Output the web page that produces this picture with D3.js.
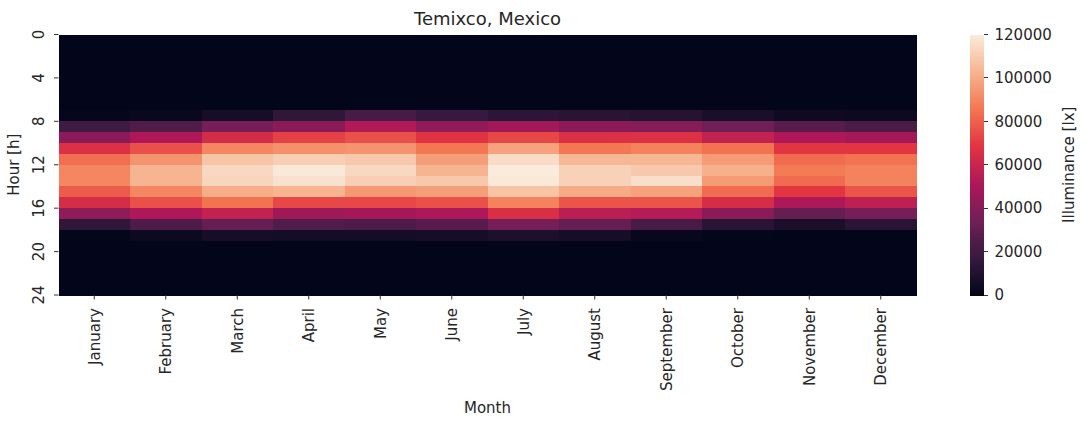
<!DOCTYPE html>
<html>
<head>
<meta charset="utf-8">
<script src="https://cdn.jsdelivr.net/npm/d3@7"></script>
<style>
  html, body { margin: 0; padding: 0; background: #fff; }
  svg text { font-family: "DejaVu Sans", sans-serif; fill: #262626; }
</style>
</head>
<body>
<svg id="chart" width="1081" height="421"></svg>
<script>
// Monthly mean illuminance [lx] per hour of day, Temixco, Mexico
const months = ["January", "February", "March", "April", "May", "June",
                "July", "August", "September", "October", "November", "December"];
const hours = d3.range(24);
const hourTicks = [0, 4, 8, 12, 16, 20, 24];
const colorTicks = [0, 20000, 40000, 60000, 80000, 100000, 120000];

// one array per month, hours 0..23
const january   = [0,0,0,0,0,0,0, 1000, 20000, 42000, 67000, 84000,  90000,  90000,  79000, 65000, 43000, 15000,  500, 0,0,0,0,0];
const february  = [0,0,0,0,0,0,0, 2500, 25000, 52000, 76000, 94000, 103000, 103000,  90000, 76000, 52000, 24000, 3000, 0,0,0,0,0];
const march     = [0,0,0,0,0,0,0, 7000, 36000, 64000, 90000,108000, 114000, 113000, 101000, 85000, 58000, 31000, 7000, 0,0,0,0,0];
const april     = [0,0,0,0,0,0,0,15000, 42000, 72000, 93000,111000, 119000, 117000, 103000, 74000, 47000, 25000, 6000, 0,0,0,0,0];
const may       = [0,0,0,0,0,0,0,22000, 53000, 76000, 94000,109000, 114000, 111000,  95000, 74000, 49000, 24000, 6000, 0,0,0,0,0];
const june      = [0,0,0,0,0,0,0,17000, 43000, 68000, 86000, 97000, 103000, 109000,  97000, 76000, 52000, 27000, 7000, 0,0,0,0,0];
const july      = [0,0,0,0,0,0,0,14000, 48000, 74000, 98000,115000, 120000, 119000, 108000, 89000, 66000, 36000, 9000, 0,0,0,0,0];
const august    = [0,0,0,0,0,0,0,13000, 42000, 67000, 86000,104000, 112000, 112000, 100000, 77000, 56000, 31000, 7000, 0,0,0,0,0];
const september = [0,0,0,0,0,0,0,12000, 40000, 67000, 89000,104000, 109000, 116000,  98000, 77000, 54000, 22000, 2000, 0,0,0,0,0];
const october   = [0,0,0,0,0,0,0, 8000, 34000, 58000, 85000, 96000, 102000,  96000,  83000, 65000, 42000, 13000,  500, 0,0,0,0,0];
const november  = [0,0,0,0,0,0,0, 4000, 27000, 52000, 69000, 83000,  87000,  83000,  69000, 52000, 31000,  8000,    0, 0,0,0,0,0];
const december  = [0,0,0,0,0,0,0, 3500, 23000, 49000, 69000, 85000,  89000,  89000,  77000, 57000, 36000, 13000,    0, 0,0,0,0,0];
const illuminance = [january, february, march, april, may, june,
                     july, august, september, october, november, december];

const vmax = 120000;

// "rocket" colour map stops
const rocketStops = ["#03051a", "#35193e", "#701f57", "#ad1759",
                     "#e13342", "#f37651", "#f6b48f", "#faebdd"];
const color = d3.scaleLinear()
  .domain(rocketStops.map((_, i) => i / (rocketStops.length - 1) * vmax))
  .range(rocketStops)
  .interpolate(d3.interpolateRgb)
  .clamp(true);

const svg = d3.select("#chart");
const plot = { left: 58.5, right: 916.5, top: 34.5, bottom: 295 };
const cbar = { left: 969.5, right: 983.5, top: 34.5, bottom: 295 };

const x = d3.scaleBand().domain(months).range([plot.left, plot.right]).padding(0);
const y = d3.scaleLinear().domain([0, 24]).range([plot.top, plot.bottom]);

// heatmap cells
const cells = [];
months.forEach((m, i) => hours.forEach(h => cells.push({ month: m, hour: h, value: illuminance[i][h] })));
svg.append("g")
  .attr("shape-rendering", "crispEdges")
  .selectAll("rect").data(cells).join("rect")
  .attr("x", d => x(d.month))
  .attr("y", d => y(d.hour))
  .attr("width", x.bandwidth() + 0.5)
  .attr("height", d => y(d.hour + 1) - y(d.hour) + 0.5)
  .attr("fill", d => color(d.value));

// y axis (hours)
const yAxis = svg.append("g");
hourTicks.forEach(t => {
  yAxis.append("line")
    .attr("x1", plot.left - 4.5).attr("x2", plot.left)
    .attr("y1", y(t)).attr("y2", y(t))
    .attr("stroke", "#333").attr("stroke-width", 1);
  yAxis.append("text")
    .attr("transform", `translate(${plot.left - 15},${y(t)}) rotate(-90)`)
    .attr("text-anchor", "middle")
    .attr("font-size", 15)
    .text(t);
});
svg.append("text")
  .attr("transform", `translate(18.5,${(plot.top + plot.bottom) / 2}) rotate(-90)`)
  .attr("text-anchor", "middle")
  .attr("font-size", 15)
  .text("Hour [h]");

// x axis (months)
const xAxis = svg.append("g");
months.forEach(m => {
  const cx = x(m) + x.bandwidth() / 2;
  xAxis.append("line")
    .attr("x1", cx).attr("x2", cx)
    .attr("y1", plot.bottom).attr("y2", plot.bottom + 4.5)
    .attr("stroke", "#333").attr("stroke-width", 1);
  xAxis.append("text")
    .attr("transform", `translate(${cx},${plot.bottom + 13}) rotate(-90)`)
    .attr("text-anchor", "end")
    .attr("dy", "0.35em")
    .attr("font-size", 15)
    .text(m);
});
svg.append("text")
  .attr("x", (plot.left + plot.right) / 2).attr("y", 412.5)
  .attr("text-anchor", "middle")
  .attr("font-size", 15)
  .text("Month");

// title
svg.append("text")
  .attr("x", (plot.left + plot.right) / 2).attr("y", 24.5)
  .attr("text-anchor", "middle")
  .attr("font-size", 18)
  .text("Temixco, Mexico");

// colour bar
const cy = d3.scaleLinear().domain([0, vmax]).range([cbar.bottom, cbar.top]);
const steps = d3.range(0, 261);
const cbarG = svg.append("g").attr("shape-rendering", "crispEdges");
cbarG.selectAll("rect").data(steps).join("rect")
  .attr("x", cbar.left)
  .attr("width", cbar.right - cbar.left)
  .attr("y", d => cy(vmax * (d + 1) / steps.length))
  .attr("height", (cbar.bottom - cbar.top) / steps.length + 0.6)
  .attr("fill", d => color(vmax * (d + 0.5) / steps.length));
colorTicks.forEach(t => {
  cbarG.append("line")
    .attr("x1", cbar.right).attr("x2", cbar.right + 4.5)
    .attr("y1", cy(t)).attr("y2", cy(t))
    .attr("stroke", "#333").attr("stroke-width", 1);
  cbarG.append("text")
    .attr("x", cbar.right + 11).attr("y", cy(t))
    .attr("dy", "0.35em")
    .attr("font-size", 15)
    .text(t);
});
svg.append("text")
  .attr("transform", `translate(1073.5,${(cbar.top + cbar.bottom) / 2}) rotate(-90)`)
  .attr("text-anchor", "middle")
  .attr("font-size", 15)
  .text("Illuminance [lx]");
</script>
</body>
</html>
